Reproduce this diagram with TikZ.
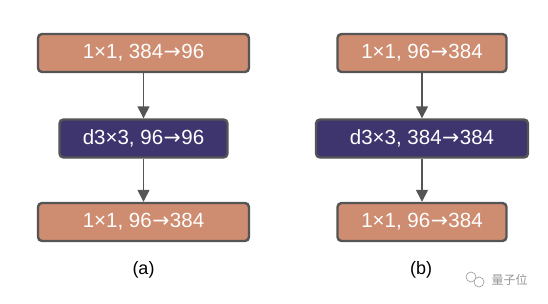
\documentclass[tikz,border=0pt]{standalone}
\usepackage{fontspec}
\setmainfont{Liberation Sans}
\newfontfamily\cjk{Noto Sans CJK SC}
\newfontfamily\arrowfont{DejaVu Sans}
\newcommand{\toarr}{{\arrowfont\kern0.5pt→\kern0.5pt}}
\usetikzlibrary{arrows.meta}
\definecolor{boxorange}{RGB}{206,140,112}
\definecolor{boxpurple}{RGB}{62,53,110}
\definecolor{edgegray}{RGB}{85,85,85}
\definecolor{wmgray}{RGB}{150,150,150}
\tikzset{
  layer/.style={draw=edgegray, line width=2.4pt, rounded corners=4pt, text=white,
    font=\fontsize{20.5}{22}\selectfont, inner sep=0pt, minimum height=38pt},
  conv/.style={layer, fill=boxorange},
  dconv/.style={layer, fill=boxpurple},
  flow/.style={draw=edgegray, line width=1.5pt, -{Triangle[width=12pt,length=12pt]}},
  caption/.style={font=\fontsize{18}{20}\selectfont, text=black}
}
\begin{document}
\begin{tikzpicture}[x=1pt,y=-1pt]
\useasboundingbox (0,0) rectangle (548,304);
% (a)
\node[conv, minimum width=211pt] (a1) at (143.5,53) {1×1, 384\toarr96};
\node[dconv, minimum width=168pt] (a2) at (143.5,138.5) {d3×3, 96\toarr96};
\node[conv, minimum width=211pt] (a3) at (143.5,222) {1×1, 96\toarr384};
\draw[flow] (a1) -- (a2);
\draw[flow] (a2) -- (a3);
\node[caption] (ca) at (143.5,270) {(a)};
% (b)
\node[conv, minimum width=169pt] (b1) at (422,53) {1×1, 96\toarr384};
\node[dconv, minimum width=212pt] (b2) at (422,138.5) {d3×3, 384\toarr384};
\node[conv, minimum width=169pt] (b3) at (422,222) {1×1, 96\toarr384};
\draw[flow] (b1) -- (b2);
\draw[flow] (b2) -- (b3);
\node[caption] (cb) at (421,270) {(b)};
% watermark
\draw[wmgray, line width=0.6pt] (471,277) circle (5pt);
\draw[wmgray, line width=0.6pt, fill=white] (479,282) circle (5pt);
\node[text=wmgray, font=\cjk\fontsize{12}{13}\selectfont, anchor=west] (wm) at (488,280) {量子位};
\end{tikzpicture}
\end{document}
